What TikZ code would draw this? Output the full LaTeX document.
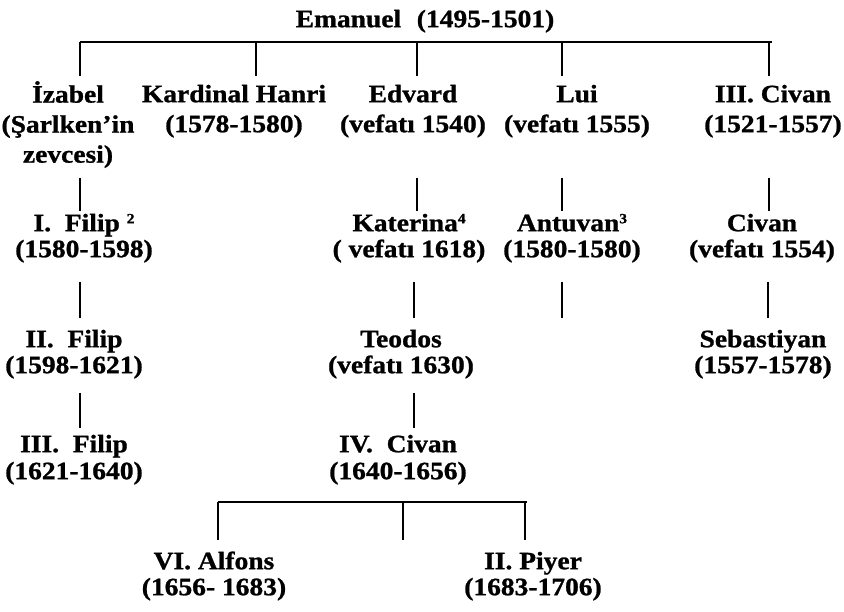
\documentclass[tikz,border=0pt]{standalone}
\usepackage{fontspec}
\setmainfont{Liberation Serif}[FakeStretch=1.1,BoldFeatures={FakeBold=1}]
\newcommand\pf[1]{\fontsize{25}{#1}\selectfont\bfseries}
\newcommand\st{\rule{0pt}{21pt}}
\newcommand\supnum[1]{{\fontsize{14}{14}\selectfont\raisebox{8pt}{#1}}}
\begin{document}
\begin{tikzpicture}[x=1pt,y=-1pt,
  person/.style={align=center,inner sep=0pt,anchor=north},
  bar/.style={line width=2.6pt},
  stem/.style={line width=1.6pt}]
\useasboundingbox (0,0) rectangle (844,612);
% row 0
\node[person,font=\pf{30}] (emanuel) at (425,6) {\st Emanuel\hspace{0.35em} (1495-1501)};
% row 1
\node[person,font=\pf{30}] (izabel) at (68,81) {\st İzabel\\(Şarlken’in\\zevcesi)};
\node[person,font=\pf{30}] (hanri) at (234,81) {\st Kardinal Hanri\\(1578-1580)};
\node[person,font=\pf{30}] (edvard) at (413,81) {\st Edvard\\(vefatı 1540)};
\node[person,font=\pf{30}] (lui) at (577,81) {\st Lui\hspace{30pt}\\(vefatı 1555)};
\node[person,font=\pf{30}] (civan3) at (773,81) {\st III. Civan\\(1521-1557)};
% row 2
\node[person,font=\pf{26}] (filip1) at (84,210) {\st I.\ \ Filip \supnum{2}\\(1580-1598)};
\node[person,font=\pf{26}] (katerina) at (409,210) {\st Katerina\supnum{4}\\( vefatı 1618)};
\node[person,font=\pf{26}] (antuvan) at (572,210) {\st Antuvan\supnum{3}\\(1580-1580)};
\node[person,font=\pf{26}] (civan) at (762,210) {\st Civan\\(vefatı 1554)};
% row 3
\node[person,font=\pf{26}] (filip2) at (74,326) {\st II.\ \ Filip\\(1598-1621)};
\node[person,font=\pf{26}] (teodos) at (401,326) {\st Teodos\\(vefatı 1630)};
\node[person,font=\pf{26}] (sebastiyan) at (763,326) {\st Sebastiyan\\(1557-1578)};
% row 4
\node[person,font=\pf{27}] (filip3) at (74,431) {\st III.\ \ Filip\\(1621-1640)};
\node[person,font=\pf{27}] (civan4) at (398,431) {\st IV.\ \ Civan\\(1640-1656)};
% row 5
\node[person,font=\pf{26}] (alfons) at (214,548) {\st VI.\ Alfons\\(1656- 1683)};
\node[person,font=\pf{26}] (piyer) at (533,548) {\st II.\ Piyer\\(1683-1706)};
% top bar
\coordinate (b0L) at (80,42); \coordinate (b0R) at (772,42);
\draw[bar] (b0L) -- (b0R);
\coordinate (a1) at (80,42);  \coordinate (a1e) at (80,76);
\coordinate (a2) at (256,42); \coordinate (a2e) at (256,76);
\coordinate (a3) at (417,42); \coordinate (a3e) at (417,76);
\coordinate (a4) at (562,42); \coordinate (a4e) at (562,76);
\coordinate (a5) at (769,42); \coordinate (a5e) at (769,76);
\draw[stem] (a1) -- (a1e); \draw[stem] (a2) -- (a2e); \draw[stem] (a3) -- (a3e);
\draw[stem] (a4) -- (a4e); \draw[stem] (a5) -- (a5e);
% row1 -> row2
\coordinate (c1) at (80,178);  \coordinate (c1e) at (80,211);
\coordinate (c2) at (417,178); \coordinate (c2e) at (417,211);
\coordinate (c3) at (562,178); \coordinate (c3e) at (562,211);
\coordinate (c4) at (769,178); \coordinate (c4e) at (769,211);
\draw[stem] (c1) -- (c1e); \draw[stem] (c2) -- (c2e);
\draw[stem] (c3) -- (c3e); \draw[stem] (c4) -- (c4e);
% row2 -> row3
\coordinate (d1) at (80,282);  \coordinate (d1e) at (80,318);
\coordinate (d2) at (414,282); \coordinate (d2e) at (414,318);
\coordinate (d3) at (562,282); \coordinate (d3e) at (562,318);
\coordinate (d4) at (768,282); \coordinate (d4e) at (768,318);
\draw[stem] (d1) -- (d1e); \draw[stem] (d2) -- (d2e);
\draw[stem] (d3) -- (d3e); \draw[stem] (d4) -- (d4e);
% row3 -> row4
\coordinate (e1) at (80,393);  \coordinate (e1e) at (80,428);
\coordinate (e2) at (414,393); \coordinate (e2e) at (414,428);
\draw[stem] (e1) -- (e1e); \draw[stem] (e2) -- (e2e);
% bottom bar
\coordinate (b5L) at (218,502); \coordinate (b5R) at (527,502);
\draw[bar] (b5L) -- (b5R);
\coordinate (f1) at (218,502); \coordinate (f1e) at (218,540);
\coordinate (f2) at (403,502); \coordinate (f2e) at (403,540);
\coordinate (f3) at (525,502); \coordinate (f3e) at (525,540);
\draw[stem] (f1) -- (f1e); \draw[stem] (f2) -- (f2e); \draw[stem] (f3) -- (f3e);
\end{tikzpicture}
\end{document}
